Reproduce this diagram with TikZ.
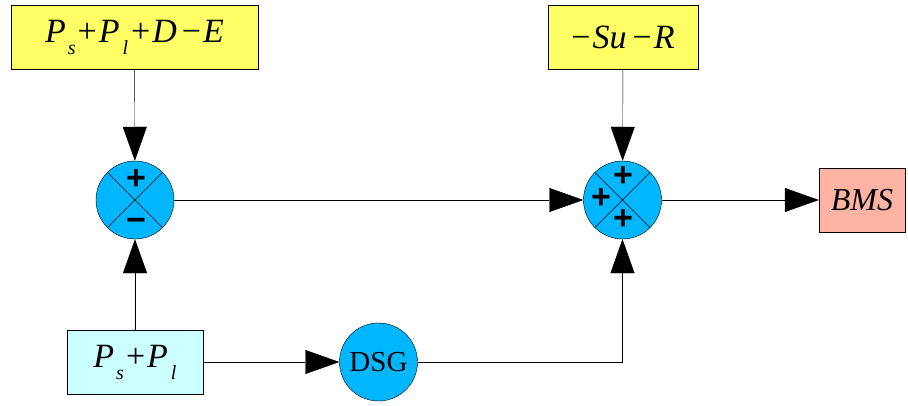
\documentclass[tikz,border=0pt]{standalone}
\usepackage{fontspec}
\setmainfont{Liberation Serif}
\newfontfamily\timesfont{Liberation Serif}
\newfontfamily\signfont{Liberation Sans}
\usetikzlibrary{arrows.meta}
\definecolor{boxyellow}{RGB}{255,255,102}
\definecolor{boxcyan}{RGB}{204,255,255}
\definecolor{boxsalmon}{RGB}{255,179,163}
\definecolor{sumblue}{RGB}{0,183,255}
\newcommand{\lowsub}[1]{\raisebox{-12pt}{\fontsize{20}{20}\selectfont\itshape #1}}
\newcommand{\var}[1]{\textit{#1}}

\begin{document}
\begin{tikzpicture}[x=1pt, y=1pt,
      block/.style ={draw, thin, minimum height=64pt, inner sep=0pt, font=\timesfont\fontsize{34}{34}\selectfont},
      summer/.style ={circle, draw, thin, fill=sumblue, minimum size=78pt, inner sep=0pt},
      sign/.style ={font=\signfont\bfseries\fontsize{34}{34}\selectfont, inner sep=0pt},
      flow/.style ={-{Triangle[length=34pt, width=24pt]}, thin}]
   \useasboundingbox (0,0) rectangle (908,405);

   \node[block, fill=boxyellow, minimum width=247pt] (Demand)  at (134.5,368)
      {\var{P}\hspace{2pt}\lowsub{s}\hspace{2pt}+\hspace{2pt}\var{P}\hspace{3pt}\lowsub{l}\hspace{3pt}+\hspace{2pt}\var{D}\hspace{5pt}−\hspace{2pt}\var{E}};
   \node[block, fill=boxyellow, minimum width=150pt] (Loss)  at (623,368)
      {−\hspace{2pt}\var{Su}\hspace{6pt}−\hspace{2pt}\var{R}};
   \node[block, fill=boxcyan, minimum width=136pt] (Load)  at (135,43)
      {\var{P}\hspace{2pt}\lowsub{s}\hspace{2pt}+\hspace{2pt}\var{P}\hspace{3pt}\lowsub{l}};
   \node[block, fill=boxsalmon, minimum width=86pt, font=\timesfont\fontsize{32}{32}\selectfont] (BMS)  at (862,205)  {\var{BMS}};

   \node[summer] (S1)  at (135,205)  {};
   \node[summer] (S2)  at (622.5,205)  {};
   \node[summer, font=\timesfont\fontsize{29}{29}\selectfont] (DSG)  at (378.5,43)  {DSG};

   \draw[thin] (S1.north west) to  (S1.south east);
   \draw[thin] (S1.north east) to  (S1.south west);
   \draw[thin] (S2.north west) to  (S2.south east);
   \draw[thin] (S2.north east) to  (S2.south west);

   \node[sign] (S1top)  at (136,225)  {+};
   \node[sign] (S1bot)  at (136,180)  {−};
   \node[sign] (S2top)  at (623,228)  {+};
   \node[sign] (S2left)  at (601,206)  {+};
   \node[sign] (S2bot)  at (623,185)  {+};

   \draw[flow] (Demand) to  (S1);
   \draw[flow] (Load) to  (S1);
   \draw[flow] (S1) to  (S2);
   \draw[flow] (Loss) to  (S2);
   \draw[flow] (S2) to  (BMS);
   \draw[flow] (Load) to  (DSG);
   \draw[flow] (DSG) -| (S2);

 \end{tikzpicture}
\end{document}
